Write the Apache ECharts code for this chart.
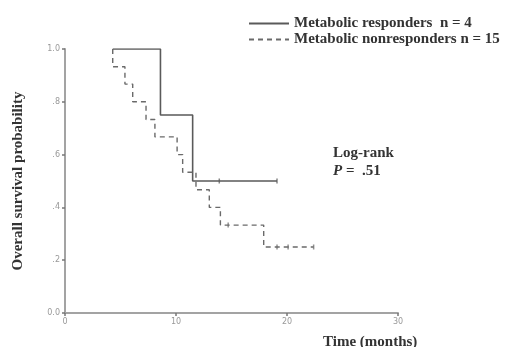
<!DOCTYPE html>
<html>
<head>
<meta charset="utf-8">
<script src="https://cdn.jsdelivr.net/npm/echarts@6/dist/echarts.min.js"></script>
<style>
  html, body { margin: 0; padding: 0; background: #fff; }
  #chart { width: 512px; height: 347px; }
</style>
</head>
<body>
<div id="chart"></div>
<script>
// Kaplan-Meier steps (months, survival probability)
const respondersSteps = [[4.3, 1.0], [8.6, 0.75], [11.5, 0.5], [19.1, 0.5]];
const respondersCensored = [[13.9, 0.5], [19.1, 0.5]];

const nonrespondersSteps = [
  [4.3, 1.0], [4.3, 0.933], [5.4, 0.867], [6.1, 0.8], [7.3, 0.733], [8.1, 0.667],
  [10.1, 0.6], [10.6, 0.533], [11.8, 0.467], [13.0, 0.4], [14.0, 0.333],
  [17.9, 0.25], [22.4, 0.25]
];
const nonrespondersCensored = [[14.7, 0.333], [19.1, 0.25], [20.1, 0.25], [22.4, 0.25]];

const yTickLabels = { 0: "0.0", 0.2: ".2", 0.4: ".4", 0.6: ".6", 0.8: ".8", 1: "1.0" };
const seriesNames = ["Metabolic responders  n = 4", "Metabolic nonresponders n = 15"];

const serif = "'Liberation Serif', 'DejaVu Serif', serif";
const axisGray = "#a3a3a3";

const chart = echarts.init(document.getElementById("chart"), null, { renderer: "canvas" });
chart.setOption({
  animation: false,
  grid: { left: 65, right: 114, top: 49, bottom: 34 },
  legend: {
    data: seriesNames,
    orient: "vertical",
    left: 243,
    top: 11,
    itemWidth: 40,
    itemHeight: 14,
    itemGap: 1,
    itemStyle: { opacity: 0 },
    textStyle: { fontFamily: serif, fontWeight: "bold", fontSize: 15, color: "#333" }
  },
  xAxis: {
    type: "value",
    min: 0,
    max: 30,
    interval: 10,
    splitLine: { show: false },
    axisLine: { lineStyle: { color: axisGray, width: 2 } },
    axisTick: { length: 3, lineStyle: { color: "#777", width: 1.5 } },
    axisLabel: { color: "#999", fontSize: 8, margin: 5, fontFamily: "DejaVu Sans" }
  },
  yAxis: {
    type: "value",
    min: 0,
    max: 1,
    interval: 0.2,
    name: "Overall survival probability",
    nameLocation: "middle",
    nameRotate: 90,
    nameGap: 39,
    nameTextStyle: { fontFamily: serif, fontWeight: "bold", fontSize: 15, color: "#333" },
    splitLine: { show: false },
    axisLine: { lineStyle: { color: axisGray, width: 2 } },
    axisTick: { length: 3, lineStyle: { color: "#777", width: 1.5 } },
    axisLabel: {
      color: "#999", fontSize: 8, margin: 5, fontFamily: "DejaVu Sans",
      formatter: (v) => yTickLabels[Math.round(v * 10) / 10]
    }
  },
  graphic: [
    { type: "text", left: 333, top: 146, style: { text: "Log-rank", font: "bold 15px " + serif, fill: "#333" } },
    {
      type: "text", left: 333, top: 164,
      style: {
        text: "{i|P} =  .51",
        font: "bold 15px " + serif,
        fill: "#333",
        rich: { i: { fontStyle: "italic", fontWeight: "bold", fontSize: 15, fontFamily: serif, fill: "#333" } }
      }
    },
    { type: "text", left: 323, top: 335, style: { text: "Time (months)", font: "bold 15px " + serif, fill: "#333" } }
  ],
  series: [
    {
      name: seriesNames[0],
      type: "line",
      step: "end",
      data: respondersSteps,
      symbol: "none",
      lineStyle: { color: "#5a5a5a", width: 1.6 },
      itemStyle: { color: "#5a5a5a" }
    },
    {
      name: seriesNames[1],
      type: "line",
      step: "end",
      data: nonrespondersSteps,
      symbol: "none",
      lineStyle: { color: "#6a6a6a", width: 1.4, type: [5, 4] },
      itemStyle: { color: "#6a6a6a" }
    },
    {
      type: "scatter",
      data: respondersCensored,
      symbol: "rect",
      symbolSize: [1.5, 5],
      itemStyle: { color: "#666" }
    },
    {
      type: "scatter",
      data: nonrespondersCensored,
      symbol: "rect",
      symbolSize: [1.5, 5],
      itemStyle: { color: "#777" }
    }
  ]
});
</script>
</body>
</html>
